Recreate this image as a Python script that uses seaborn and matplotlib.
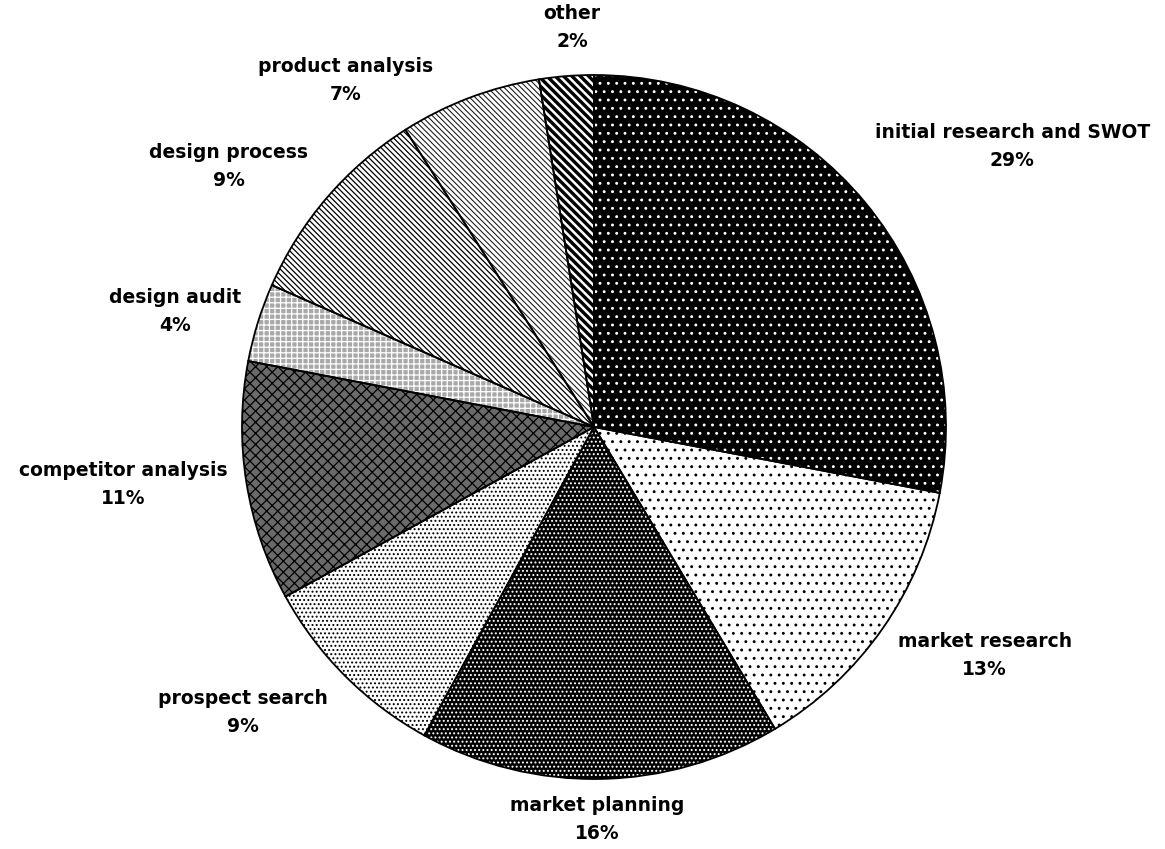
import numpy as np
import matplotlib
matplotlib.use("Agg")
import matplotlib.pyplot as plt
import seaborn as sns

# ---- data ----
categories = ["initial research and SWOT", "market research", "market planning",
              "prospect search", "competitor analysis", "design audit",
              "design process", "product analysis", "other"]
shares = [28.0, 13.4, 16.6, 9.0, 11.0, 3.6, 9.4, 6.5, 2.5]
pct_labels = ["29%", "13%", "16%", "9%", "11%", "4%", "9%", "7%", "2%"]

# ---- label layout (centre of each two-line label, in pie-radius units) ----
label_xy = [(1.188, 0.798), (1.110, -0.648), (0.009, -1.116), (-0.997, -0.810),
            (-1.338, -0.162), (-1.190, 0.327), (-1.037, 0.741), (-0.707, 0.983),
            (-0.062, 1.136)]

# ---- styles (face colour, hatch colour, hatch pattern, hatch width) ----
faces = ["black", "white", "black", "white", "#6a6a6a", "#a8a8a8", "white", "white", "black"]
hcols = ["white", "black", "white", "black", "black", "white", "black", "#202020", "white"]
hatches = ["..", "..", "....", "....", "xxx", "+++", "\\\\\\\\\\\\", "\\\\\\\\\\\\", "\\\\\\\\"]
hwidths = [0.9, 0.9, 0.9, 0.9, 0.9, 0.9, 0.9, 0.8, 1.8]

sns.set_theme(style="white")
plt.rcParams["font.family"] = ["DejaVu Sans"]
plt.rcParams["hatch.linewidth"] = 0.9

fig = plt.figure(figsize=(11.65, 8.49), dpi=100)
ax = fig.add_axes([0, 0, 1, 1])

wedges, _ = ax.pie(shares, startangle=90, counterclock=False, radius=1.0,
                   colors=faces, wedgeprops=dict(linewidth=0))
for w, hc, h, hw in zip(wedges, hcols, hatches, hwidths):
    w.set_edgecolor(hc)
    w.set_hatch(h)
    w.set_linewidth(0)
    if hasattr(w, "set_hatch_linewidth"):
        w.set_hatch_linewidth(hw)
# outlines
ax.pie(shares, startangle=90, counterclock=False, radius=1.0,
       wedgeprops=dict(fill=False, edgecolor="black", linewidth=1.3))

for (lx, ly), cat, pl in zip(label_xy, categories, pct_labels):
    ax.text(lx, ly, f"{cat}\n{pl}", ha="center", va="center", multialignment="center",
            fontsize=13.5, fontweight="bold", linespacing=1.6, color="black")

ax.set_xlim(-594 / 352, (1165 - 594) / 352)
ax.set_ylim(-(849 - 427) / 352, 427 / 352)
ax.set_aspect("auto")
ax.axis("off")
fig.savefig("out.png", dpi=100, facecolor="white")
